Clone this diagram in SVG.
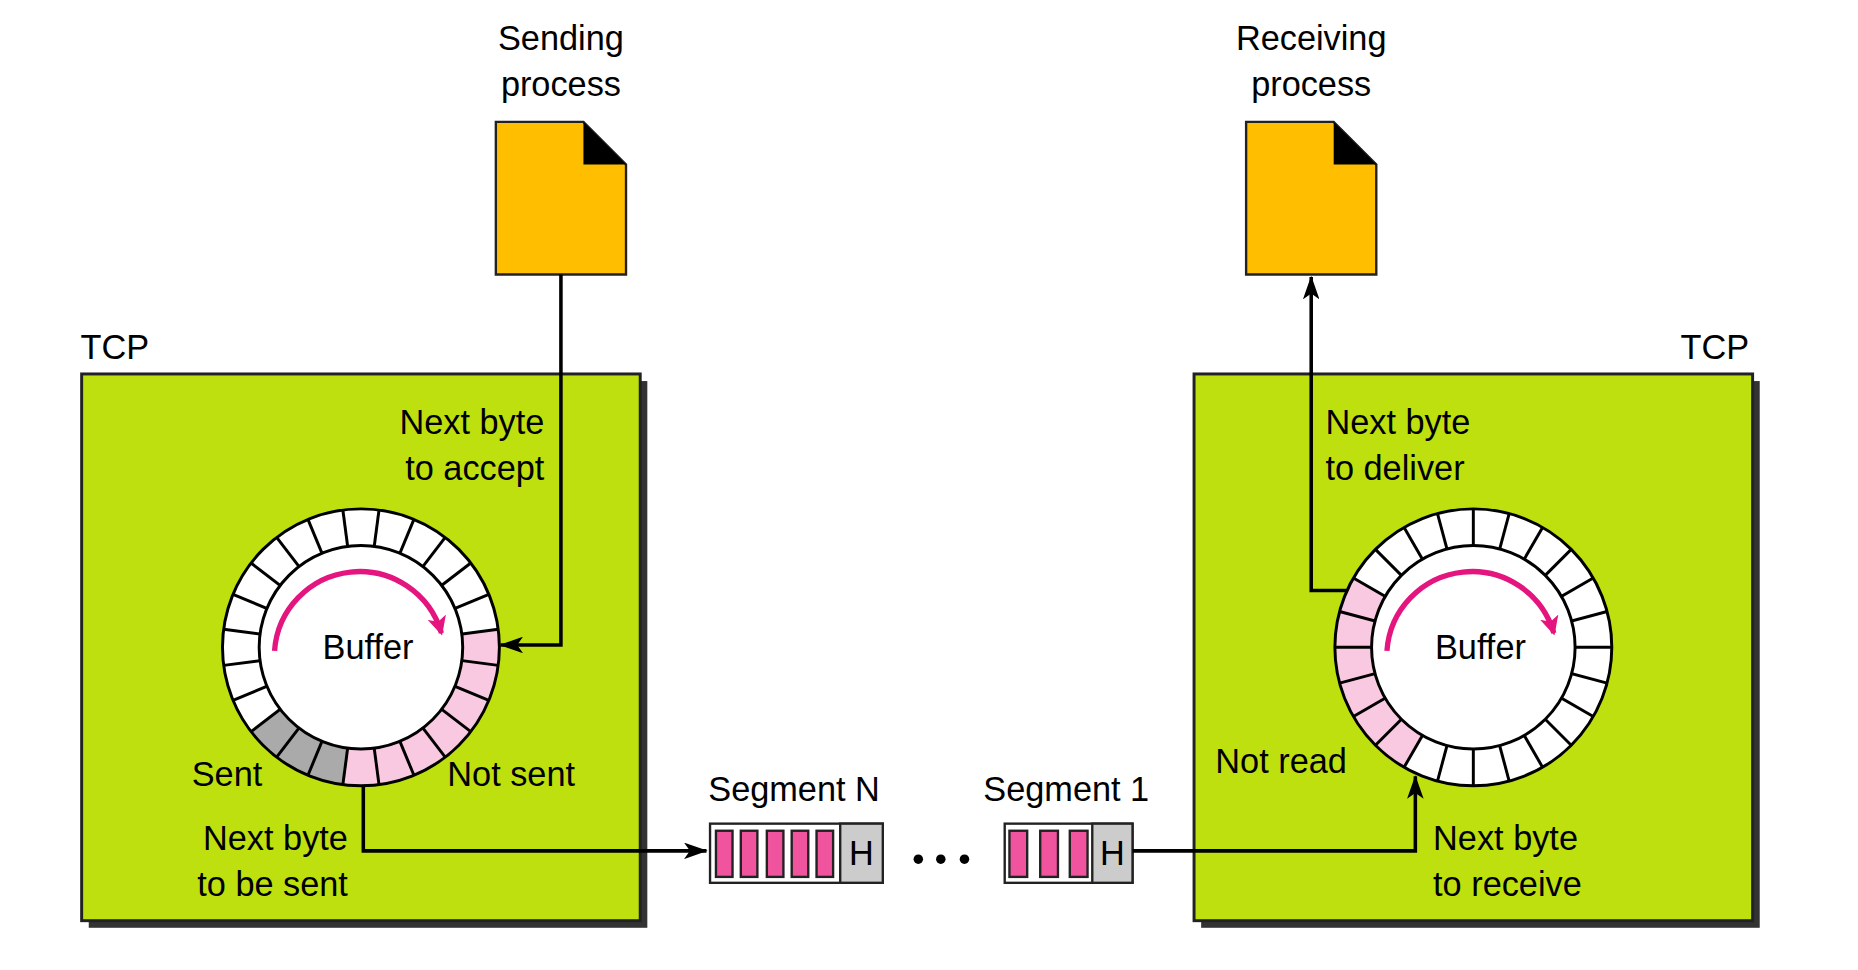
<svg xmlns="http://www.w3.org/2000/svg" width="1858" height="970" viewBox="0 0 1858 970">
<defs>
<style>
text{font-family:"Liberation Sans",Arial,sans-serif;font-size:29px;fill:#000}
.box{fill:#bfe00f;stroke:#222;stroke-width:2.5}
.shadow{fill:#333}
.doc{fill:#ffbe00;stroke:#222;stroke-width:2}
.ln{fill:none;stroke:#000;stroke-width:3}
.cellline{stroke:#000;stroke-width:2.5}
.bar{fill:#f0549f;stroke:#222;stroke-width:2}
</style>
<marker id="ah" viewBox="0 0 20 14" refX="19" refY="7" markerWidth="20" markerHeight="14" markerUnits="userSpaceOnUse" orient="auto"><path d="M0,0 L20,7 L0,14 L5,7 Z" fill="#000"/></marker>
<marker id="ph" viewBox="0 0 16 16" refX="14" refY="8" markerWidth="16" markerHeight="16" markerUnits="userSpaceOnUse" orient="auto"><path d="M0,0 L16,8 L0,16 L4,8 Z" fill="#e4157e"/></marker>
<g id="spokes">
<line class="cellline" x1="-117" y1="0" x2="117" y2="0"/>
<line class="cellline" x1="-117" y1="0" x2="117" y2="0" transform="rotate(15)"/>
<line class="cellline" x1="-117" y1="0" x2="117" y2="0" transform="rotate(30)"/>
<line class="cellline" x1="-117" y1="0" x2="117" y2="0" transform="rotate(45)"/>
<line class="cellline" x1="-117" y1="0" x2="117" y2="0" transform="rotate(60)"/>
<line class="cellline" x1="-117" y1="0" x2="117" y2="0" transform="rotate(75)"/>
<line class="cellline" x1="-117" y1="0" x2="117" y2="0" transform="rotate(90)"/>
<line class="cellline" x1="-117" y1="0" x2="117" y2="0" transform="rotate(105)"/>
<line class="cellline" x1="-117" y1="0" x2="117" y2="0" transform="rotate(120)"/>
<line class="cellline" x1="-117" y1="0" x2="117" y2="0" transform="rotate(135)"/>
<line class="cellline" x1="-117" y1="0" x2="117" y2="0" transform="rotate(150)"/>
<line class="cellline" x1="-117" y1="0" x2="117" y2="0" transform="rotate(165)"/>
</g>
</defs>
<rect width="1858" height="970" fill="#fff"/>
<g transform="scale(1.1834)">
<g id="sending-process">
<text x="474" y="42" text-anchor="middle">Sending</text>
<text x="474" y="81" text-anchor="middle">process</text>
<path class="doc" d="M419,103 H493 L529,139 V232 H419 Z"/>
<path d="M493,103 L529,139 H493 Z" fill="#000"/>
</g>
<g id="receiving-process">
<text x="1108" y="42" text-anchor="middle">Receiving</text>
<text x="1108" y="81" text-anchor="middle">process</text>
<path class="doc" d="M1053,103 H1127 L1163,139 V232 H1053 Z"/>
<path d="M1127,103 L1163,139 H1127 Z" fill="#000"/>
</g>
<g id="tcp-sender">
<rect class="shadow" x="75" y="322" width="472" height="462"/>
<rect class="box" x="69" y="316" width="472" height="462"/>
<text x="68" y="303">TCP</text>
<text x="460" y="367" text-anchor="end">Next byte</text>
<text x="460" y="406" text-anchor="end">to accept</text>
<text x="162" y="664">Sent</text>
<text x="378" y="664">Not sent</text>
<text x="294" y="718" text-anchor="end">Next byte</text>
<text x="294" y="757" text-anchor="end">to be sent</text>
<g id="buffer-sender" transform="translate(305,547)">
<circle r="101.5" fill="none" stroke="#fff" stroke-width="31"/>
<path d="M100.63,-13.25 A101.5,101.5 0 0 1 -13.25,100.63" fill="none" stroke="#f9c9e1" stroke-width="31"/>
<path d="M-13.25,100.63 A101.5,101.5 0 0 1 -80.53,61.79" fill="none" stroke="#aaa" stroke-width="31"/>
<use href="#spokes" transform="rotate(7.5)"/>
<circle r="117" fill="none" stroke="#000" stroke-width="2.5"/>
<circle r="86" fill="#fff" stroke="#000" stroke-width="2.5"/>
<path d="M-73,3 A72,72 0 0 1 68,-12" fill="none" stroke="#e4157e" stroke-width="4.5" marker-end="url(#ph)"/>
<text x="6" y="10" text-anchor="middle">Buffer</text>
</g>
</g>
<g id="tcp-receiver">
<rect class="shadow" x="1015" y="322" width="472" height="462"/>
<rect class="box" x="1009" y="316" width="472" height="462"/>
<text x="1478" y="303" text-anchor="end">TCP</text>
<text x="1120" y="367">Next byte</text>
<text x="1120" y="406">to deliver</text>
<text x="1027" y="653">Not read</text>
<text x="1211" y="718">Next byte</text>
<text x="1211" y="757">to receive</text>
<g id="buffer-receiver" transform="translate(1245,547)">
<circle r="101.5" fill="none" stroke="#fff" stroke-width="31"/>
<path d="M-50.75,87.9 A101.5,101.5 0 0 1 -87.9,-50.75" fill="none" stroke="#f9c9e1" stroke-width="31"/>
<use href="#spokes"/>
<circle r="117" fill="none" stroke="#000" stroke-width="2.5"/>
<circle r="86" fill="#fff" stroke="#000" stroke-width="2.5"/>
<path d="M-73,3 A72,72 0 0 1 68,-12" fill="none" stroke="#e4157e" stroke-width="4.5" marker-end="url(#ph)"/>
<text x="6" y="10" text-anchor="middle">Buffer</text>
</g>
</g>
<g id="segment-n">
<text x="671" y="677" text-anchor="middle">Segment N</text>
<rect x="600" y="696" width="146" height="50" fill="#fff" stroke="#222" stroke-width="2"/>
<rect x="710" y="696" width="36" height="50" fill="#ccc" stroke="#222" stroke-width="2"/>
<rect class="bar" x="605" y="702" width="14" height="39"/>
<rect class="bar" x="626" y="702" width="14" height="39"/>
<rect class="bar" x="648" y="702" width="14" height="39"/>
<rect class="bar" x="669" y="702" width="14" height="39"/>
<rect class="bar" x="690" y="702" width="14" height="39"/>
<text x="728" y="731" text-anchor="middle">H</text>
</g>
<g id="dots">
<circle cx="776" cy="726" r="4"/><circle cx="795" cy="726" r="4"/><circle cx="815" cy="726" r="4"/>
</g>
<g id="segment-1">
<text x="901" y="677" text-anchor="middle">Segment 1</text>
<rect x="849" y="696" width="108" height="50" fill="#fff" stroke="#222" stroke-width="2"/>
<rect x="923" y="696" width="34" height="50" fill="#ccc" stroke="#222" stroke-width="2"/>
<rect class="bar" x="853" y="702" width="15" height="39"/>
<rect class="bar" x="879" y="702" width="15" height="39"/>
<rect class="bar" x="904" y="702" width="15" height="39"/>
<text x="940" y="731" text-anchor="middle">H</text>
</g>
<g id="connectors">
<path class="ln" d="M474,232 V545 H423" marker-end="url(#ah)"/>
<path class="ln" d="M307,664 V719 H597" marker-end="url(#ah)"/>
<path class="ln" d="M957,719 H1196 V656" marker-end="url(#ah)"/>
<path class="ln" d="M1138,499 H1108 V234" marker-end="url(#ah)"/>
</g>
</g>
</svg>
